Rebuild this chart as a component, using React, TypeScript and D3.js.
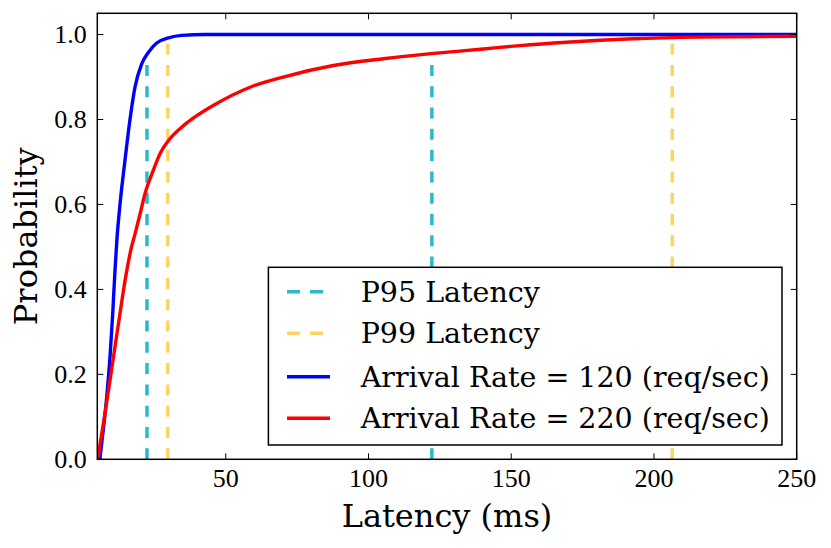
import React, { useRef, useEffect } from 'react';
import * as d3 from 'd3';

// CDF samples: latency (ms) and cumulative probability
const rate120Latency = [5.9, 7.1, 8.3, 9.45, 10.4, 11.2, 11.9, 12.95, 14.7, 16.45, 18.2, 20.55, 22.9, 25.8, 29.9, 34.6, 42.7, 60, 250];
const rate120Prob = [0, 0.07, 0.147, 0.241, 0.343, 0.445, 0.52, 0.6, 0.704, 0.8, 0.876, 0.931, 0.958, 0.98, 0.992, 0.998, 1.0, 1.0, 1.0];

const rate220Latency = [5.1, 7.7, 9.45, 11.2, 12.95, 14.7, 17, 18.2, 20, 21.7, 24.6, 27, 29.9, 34.6, 39.2, 45.6, 58.5, 70.1, 87.7, 105.2, 121.9, 140.2, 153, 169.4, 192.7, 216, 250];
const rate220Prob = [0, 0.108, 0.186, 0.265, 0.343, 0.42, 0.5, 0.53, 0.578, 0.625, 0.68, 0.72, 0.75, 0.782, 0.806, 0.833, 0.876, 0.9, 0.927, 0.943, 0.955, 0.966, 0.974, 0.982, 0.99, 0.994, 0.996];

const p95Latency = [22.4, 122.2];
const p99Latency = [29.7, 206.4];

const xTicks = [50, 100, 150, 200, 250];
const yTicks = [0, 0.2, 0.4, 0.6, 0.8, 1.0];

const legendLabels = ['P95 Latency', 'P99 Latency', 'Arrival Rate = 120 (req/sec)', 'Arrival Rate = 220 (req/sec)'];

const CYAN = '#29b9cd';
const GOLD = '#fdd462';
const DASH = '11,10.3';

const App: React.FC = () => {
  const svgRef = useRef<SVGSVGElement>(null);

  useEffect(() => {
    if (!svgRef.current) return;
    const svg = d3.select(svgRef.current);
    svg.selectAll('*').remove();

    const margin = { top: 13.3, right: 831 - 796.7, bottom: 548 - 459.3, left: 97.3 };
    const width = 831 - margin.left - margin.right;
    const height = 548 - margin.top - margin.bottom;

    const chart = svg.append('g').attr('transform', `translate(${margin.left},${margin.top})`);

    const x = d3.scaleLinear().domain([5, 250]).range([0, width]);
    const y = d3.scaleLinear().domain([0, 1.05]).range([height, 0]);

    const clip = svg.append('clipPath').attr('id', 'plot-clip');
    clip.append('rect').attr('width', width).attr('height', height);

    const plot = chart.append('g').attr('clip-path', 'url(#plot-clip)');

    // percentile markers, drawn from the bottom up
    const vline = (xs: number[], top: number, color: string) => {
      xs.forEach(v => {
        plot.append('line')
          .attr('x1', x(v)).attr('x2', x(v))
          .attr('y1', y(0)).attr('y2', y(top))
          .attr('stroke', color)
          .attr('stroke-width', 3.5)
          .attr('stroke-dasharray', DASH);
      });
    };
    vline(p95Latency, 0.95, CYAN);
    vline(p99Latency, 0.99, GOLD);

    const line = d3.line<[number, number]>()
      .x(d => x(d[0]))
      .y(d => y(d[1]))
      .curve(d3.curveMonotoneX);

    const blue = rate120Latency.map((v, i) => [v, rate120Prob[i]] as [number, number]);
    const red = rate220Latency.map((v, i) => [v, rate220Prob[i]] as [number, number]);

    plot.append('path').attr('d', line(blue)).attr('fill', 'none').attr('stroke', '#0000ff').attr('stroke-width', 3.4);
    plot.append('path').attr('d', line(red)).attr('fill', 'none').attr('stroke', '#ff0000').attr('stroke-width', 3.4);

    // ticks point inwards on all four sides
    const tickLen = 6;
    xTicks.forEach(t => {
      chart.append('line').attr('x1', x(t)).attr('x2', x(t)).attr('y1', height).attr('y2', height - tickLen).attr('stroke', '#000');
      chart.append('line').attr('x1', x(t)).attr('x2', x(t)).attr('y1', 0).attr('y2', tickLen).attr('stroke', '#000');
      chart.append('text')
        .attr('x', x(t)).attr('y', height + 27.4)
        .attr('text-anchor', 'middle')
        .style('font-family', '"Liberation Serif", serif')
        .style('font-size', '26px')
        .text(t);
    });
    yTicks.forEach(t => {
      chart.append('line').attr('x1', 0).attr('x2', tickLen).attr('y1', y(t)).attr('y2', y(t)).attr('stroke', '#000');
      chart.append('line').attr('x1', width).attr('x2', width - tickLen).attr('y1', y(t)).attr('y2', y(t)).attr('stroke', '#000');
      chart.append('text')
        .attr('x', -10.6).attr('y', y(t) + 8.8)
        .attr('text-anchor', 'end')
        .style('font-family', '"Liberation Serif", serif')
        .style('font-size', '26px')
        .text(t.toFixed(1));
    });

    // frame
    chart.append('rect')
      .attr('width', width).attr('height', height)
      .attr('fill', 'none').attr('stroke', '#000').attr('stroke-width', 1.5);

    // axis labels
    svg.append('text')
      .attr('x', margin.left + width / 2).attr('y', 527.3)
      .attr('text-anchor', 'middle')
      .style('font-family', '"DejaVu Serif", serif')
      .style('font-size', '32px')
      .text('Latency (ms)');
    svg.append('text')
      .attr('transform', `translate(37,${margin.top + height / 2}) rotate(-90)`)
      .attr('text-anchor', 'middle')
      .style('font-family', '"DejaVu Serif", serif')
      .style('font-size', '32px')
      .text('Probability');

    // legend
    const legend = svg.append('g');
    legend.append('rect')
      .attr('x', 268.4).attr('y', 267.3)
      .attr('width', 782 - 268.4).attr('height', 445 - 267.3)
      .attr('fill', '#fff').attr('stroke', '#000').attr('stroke-width', 1.5);
    const rowY = [291.7, 333.3, 376.7, 418.3];
    const handles = [
      { color: CYAN, dash: DASH },
      { color: GOLD, dash: DASH },
      { color: '#0000ff', dash: null },
      { color: '#ff0000', dash: null },
    ];
    legendLabels.forEach((label, i) => {
      const h = handles[i];
      const l = legend.append('line')
        .attr('x1', 287).attr('x2', 330)
        .attr('y1', rowY[i]).attr('y2', rowY[i])
        .attr('stroke', h.color)
        .attr('stroke-width', h.dash ? 3.5 : 3.4);
      if (h.dash) l.attr('stroke-dasharray', '13,10');
      legend.append('text')
        .attr('x', 360.7).attr('y', rowY[i] + 10)
        .style('font-family', '"DejaVu Serif", serif')
        .style('font-size', '28.5px')
        .text(label);
    });
  }, []);

  return (
    <svg
      ref={svgRef}
      width={831}
      height={548}
      style={{ position: 'absolute', left: 0, top: 0, background: '#fff' }}
    />
  );
};

export default App;
